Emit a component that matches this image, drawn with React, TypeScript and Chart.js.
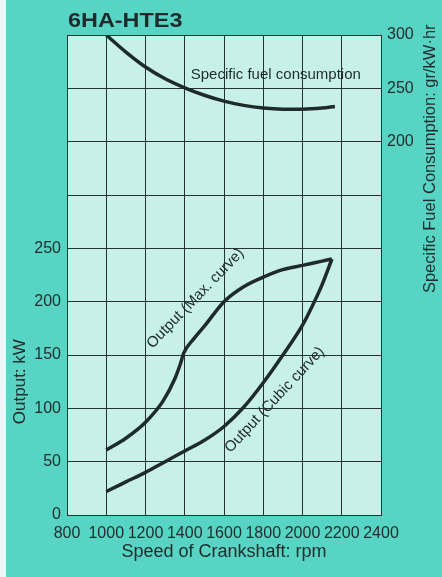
import React, { useEffect, useRef } from "react";
import { Chart, registerables } from "chart.js";

Chart.register(...registerables);

// ---- data ----
const chartTitle = "6HA-HTE3";
const xTitle = "Speed of Crankshaft: rpm";
const leftTitle = "Output: kW";
const rightTitle = "Specific Fuel Consumption: gr/kW·hr";

const sfcRpm = [1000, 1100, 1200, 1300, 1400, 1500, 1600, 1700, 1800, 1900, 2000, 2100, 2165];
const sfcValues = [300, 284, 270, 259, 250.5, 243.5, 238, 234, 231.5, 230.5, 230.5, 231.5, 233];

const maxRpm = [1000, 1100, 1200, 1290, 1350, 1380, 1395, 1450, 1500, 1600, 1700, 1800, 1900, 2000, 2100, 2150];
const maxValues = [61, 72, 87, 107, 128, 143, 152, 166, 177, 200, 214, 223, 230, 234, 238, 240];

const cubicRpm = [1000, 1100, 1200, 1300, 1400, 1500, 1600, 1700, 1800, 1900, 2000, 2050, 2100, 2150];
const cubicValues = [22, 31, 40, 50, 60, 70, 83, 101, 124, 150, 178, 196, 216, 240];

const xTickValues = [800, 1000, 1200, 1400, 1600, 1800, 2000, 2200, 2400];
const leftTickLabels = [0, 50, 100, 150, 200, 250];
const rightTickLabels = [200, 250, 300];

// curve labels anchored in data space: [text, rpm, value, axis, angleDeg]
const curveLabels: [string, number, number, string, number][] = [
  ["Specific fuel consumption", 1864, 263, "y2", 0],
  ["Output (Max. curve)", 1455, 203, "y", -46],
  ["Output (Cubic curve)", 1858, 108, "y", -47],
];

const FONT = "'Liberation Sans', Arial, Helvetica, sans-serif";
const INK = "#1f2b2b";
const OUTER = "#58d4c4";
const INNER = "#c8f0ea";
const GRID = "#263232";

const toPts = (xs: number[], ys: number[]) => xs.map((x, i) => ({ x, y: ys[i] }));

export default function App() {
  const ref = useRef<HTMLCanvasElement | null>(null);

  useEffect(() => {
    if (!ref.current) return;

    const bgPlugin = {
      id: "bg",
      beforeDraw(chart: any) {
        const { ctx, width, height, chartArea } = chart;
        ctx.save();
        ctx.fillStyle = OUTER;
        ctx.fillRect(0, 0, width, height);
        ctx.fillStyle = "#e8fbf8";
        ctx.fillRect(0, 0, 6, height);
        ctx.fillStyle = INNER;
        ctx.fillRect(chartArea.left, chartArea.top, chartArea.right - chartArea.left, chartArea.bottom - chartArea.top);
        ctx.restore();
      },
    };

    const textPlugin = {
      id: "texts",
      afterDraw(chart: any) {
        const { ctx, chartArea, scales } = chart;
        const x = scales.x, y = scales.y, y2 = scales.y2;
        ctx.save();
        ctx.fillStyle = INK;
        // main title
        ctx.save();
        ctx.font = `bold 20px ${FONT}`;
        ctx.textAlign = "left";
        ctx.textBaseline = "alphabetic";
        ctx.translate(chartArea.left + 1, 27);
        ctx.scale(1.17, 1);
        ctx.fillText(chartTitle, 0, 0);
        ctx.restore();
        // x title
        ctx.font = `18px ${FONT}`;
        ctx.textAlign = "center";
        ctx.textBaseline = "middle";
        ctx.fillText(xTitle, (chartArea.left + chartArea.right) / 2, 552);
        // left title
        ctx.save();
        ctx.translate(20, y.getPixelForValue(125));
        ctx.rotate(-Math.PI / 2);
        ctx.font = `17px ${FONT}`;
        ctx.fillText(leftTitle, 0, 0);
        ctx.restore();
        // right title
        ctx.save();
        ctx.translate(430, y2.getPixelForValue(184));
        ctx.rotate(-Math.PI / 2);
        ctx.font = `16.5px ${FONT}`;
        ctx.fillText(rightTitle, 0, 0);
        ctx.restore();
        // curve labels
        ctx.font = `15px ${FONT}`;
        curveLabels.forEach(([t, rx, v, ax, ang]) => {
          const sc = ax === "y2" ? y2 : y;
          ctx.save();
          ctx.translate(x.getPixelForValue(rx), sc.getPixelForValue(v));
          ctx.rotate((ang * Math.PI) / 180);
          ctx.fillText(t, 0, 0);
          ctx.restore();
        });
        ctx.restore();
      },
    };

    const lineStyle = {
      borderColor: INK,
      borderWidth: 3.5,
      pointRadius: 0,
      fill: false,
      cubicInterpolationMode: "monotone" as const,
    };

    const chart = new Chart(ref.current, {
      type: "line",
      data: {
        datasets: [
          { label: "Specific fuel consumption", data: toPts(sfcRpm, sfcValues), yAxisID: "y2", ...lineStyle },
          { label: "Output (Max. curve)", data: toPts(maxRpm, maxValues), yAxisID: "y", ...lineStyle },
          { label: "Output (Cubic curve)", data: toPts(cubicRpm, cubicValues), yAxisID: "y", ...lineStyle },
        ],
      },
      options: {
        animation: false,
        responsive: false,
        devicePixelRatio: 1,
        events: [],
        layout: { padding: { top: 35, left: 0, right: 0, bottom: 0 } },
        plugins: { legend: { display: false }, tooltip: { enabled: false }, title: { display: false } },
        scales: {
          x: {
            type: "linear",
            min: 800,
            max: 2400,
            afterBuildTicks: (s: any) => {
              s.ticks = xTickValues.map((v) => ({ value: v }));
            },
            afterFit: (s: any) => {
              s.height = 62;
            },
            grid: { color: GRID, lineWidth: 1, drawTicks: false },
            border: { color: GRID, width: 1 },
            ticks: {
              color: INK,
              font: { family: FONT, size: 16 },
              padding: 9,
              maxRotation: 0,
              autoSkip: false,
              callback: (v: any) => String(v),
            },
          },
          y: {
            type: "linear",
            position: "left",
            min: 0,
            max: 450,
            ticks: {
              stepSize: 50,
              color: INK,
              font: { family: FONT, size: 16 },
              padding: 6,
              callback: (v: any) => (leftTickLabels.includes(Number(v)) ? String(v) : ""),
            },
            afterFit: (s: any) => {
              s.width = 67;
            },
            grid: { color: GRID, lineWidth: 1, drawTicks: false },
            border: { color: GRID, width: 1 },
          },
          y2: {
            type: "linear",
            position: "right",
            min: -150,
            max: 300,
            ticks: {
              stepSize: 50,
              color: INK,
              font: { family: FONT, size: 16 },
              padding: 6,
              callback: (v: any) => (rightTickLabels.includes(Number(v)) ? String(v) : ""),
            },
            afterFit: (s: any) => {
              s.width = 61;
            },
            grid: { display: false, drawTicks: false },
            border: { color: GRID, width: 1 },
          },
        },
      },
      plugins: [bgPlugin, textPlugin],
    } as any);

    return () => chart.destroy();
  }, []);

  return (
    <div style={{ position: "fixed", left: 0, top: 0, width: 442, height: 577 }}>
      <canvas ref={ref} width={442} height={577} style={{ display: "block", width: 442, height: 577 }} />
    </div>
  );
}
